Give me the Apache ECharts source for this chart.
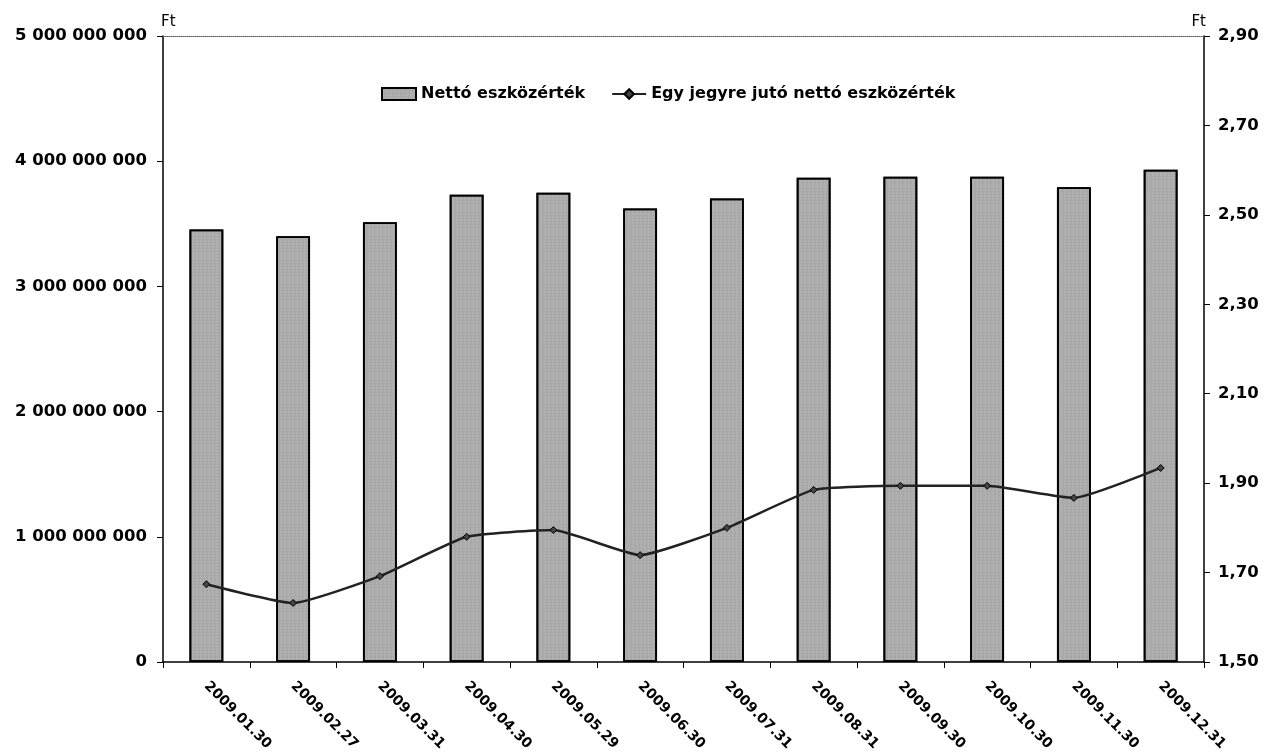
<!DOCTYPE html>
<html>
<head>
<meta charset="utf-8">
<script src="https://cdn.jsdelivr.net/npm/echarts@6/dist/echarts.min.js"></script>
<style>html,body{margin:0;padding:0;background:#fff;}#c{width:1265px;height:756px;}</style>
</head>
<body>
<div id="c"></div>
<script>
const categories = ['2009.01.30','2009.02.27','2009.03.31','2009.04.30','2009.05.29','2009.06.30','2009.07.31','2009.08.31','2009.09.30','2009.10.30','2009.11.30','2009.12.31'];
const nettoEszkozertek = [3455000000,3400000000,3512000000,3732000000,3748000000,3622000000,3702000000,3868000000,3876000000,3876000000,3792000000,3932000000];
const egyJegyre = [1.674,1.632,1.692,1.780,1.795,1.739,1.800,1.885,1.894,1.894,1.867,1.934];
const leftTicks = [0,1000000000,2000000000,3000000000,4000000000,5000000000];
const rightTicks = [1.50,1.70,1.90,2.10,2.30,2.50,2.70,2.90];

const FONT = 'DejaVu Sans';
const chart = echarts.init(document.getElementById('c'));
chart.setOption({
  animation: false,
  backgroundColor: '#fff',
  textStyle: { fontFamily: FONT },
  legend: {
    top: 81, left: 376, itemGap: 26, itemWidth: 34, itemHeight: 12,
    textStyle: { fontFamily: FONT, fontWeight: 'bold', fontSize: 16, color: '#000' },
    data: [{ name: 'Nettó eszközérték', icon: 'rect' }, { name: 'Egy jegyre jutó nettó eszközérték' }]
  },
  grid: { left: 163, right: 61, top: 36, bottom: 94 },
  xAxis: [{
    type: 'category', data: categories, boundaryGap: true,
    axisLine: { lineStyle: { color: '#000', width: 1.5 } },
    axisTick: { show: true, alignWithLabel: false, length: 6, lineStyle: { color: '#000' } },
    axisLabel: { rotate: -45, margin: 22, color: '#000', fontFamily: FONT, fontWeight: 'bold', fontSize: 14 }
  }, {
    type: 'category', data: categories, position: 'top',
    axisLine: { lineStyle: { color: '#555', type: 'dotted', width: 1 } },
    axisTick: { show: false }, axisLabel: { show: false }
  }],
  yAxis: [{
    type: 'value', min: 0, max: 5000000000, interval: 1000000000,
    name: 'Ft', nameLocation: 'end', nameGap: 6,
    nameTextStyle: { align: 'left', color: '#000', fontFamily: FONT, fontSize: 15, padding: [0,0,0,-2] },
    axisLine: { show: true, lineStyle: { color: '#000', width: 1.5 } },
    axisTick: { show: true, length: 6, lineStyle: { color: '#000' } },
    splitLine: { show: false },
    axisLabel: {
      margin: 16, color: '#000', fontFamily: FONT, fontWeight: 'bold', fontSize: 16.5,
      formatter: v => String(Math.round(v)).replace(/\B(?=(\d{3})+(?!\d))/g, ' ')
    }
  }, {
    type: 'value', min: 1.5, max: 2.9, interval: 0.2, position: 'right',
    name: 'Ft', nameLocation: 'end', nameGap: 6,
    nameTextStyle: { align: 'right', color: '#000', fontFamily: FONT, fontSize: 15, padding: [0,-2,0,0] },
    axisLine: { show: true, lineStyle: { color: '#000', width: 1.5 } },
    axisTick: { show: true, length: 6, lineStyle: { color: '#000' } },
    splitLine: { show: false },
    axisLabel: {
      margin: 14, color: '#000', fontFamily: FONT, fontWeight: 'bold', fontSize: 16.5,
      formatter: v => v.toFixed(2).replace('.', ',')
    }
  }],
  series: [{
    name: 'Nettó eszközérték', type: 'bar', xAxisIndex: 0, yAxisIndex: 0,
    data: nettoEszkozertek, barWidth: '39%',
    itemStyle: {
      color: '#a9a9a9', borderColor: '#000', borderWidth: 1.8,
      decal: { symbol: 'rect', symbolSize: 0.6, color: 'rgba(255,255,255,0.35)', dashArrayX: [2, 2], dashArrayY: [2, 1], rotation: 0 }
    }
  }, {
    name: 'Egy jegyre jutó nettó eszközérték', type: 'line', xAxisIndex: 0, yAxisIndex: 1,
    data: egyJegyre, smooth: 0.15, symbol: 'diamond', symbolSize: 7, showSymbol: true,
    lineStyle: { color: '#222', width: 2.5 },
    itemStyle: { color: '#444', borderColor: '#000', borderWidth: 1 }
  }]
});
</script>
</body>
</html>
